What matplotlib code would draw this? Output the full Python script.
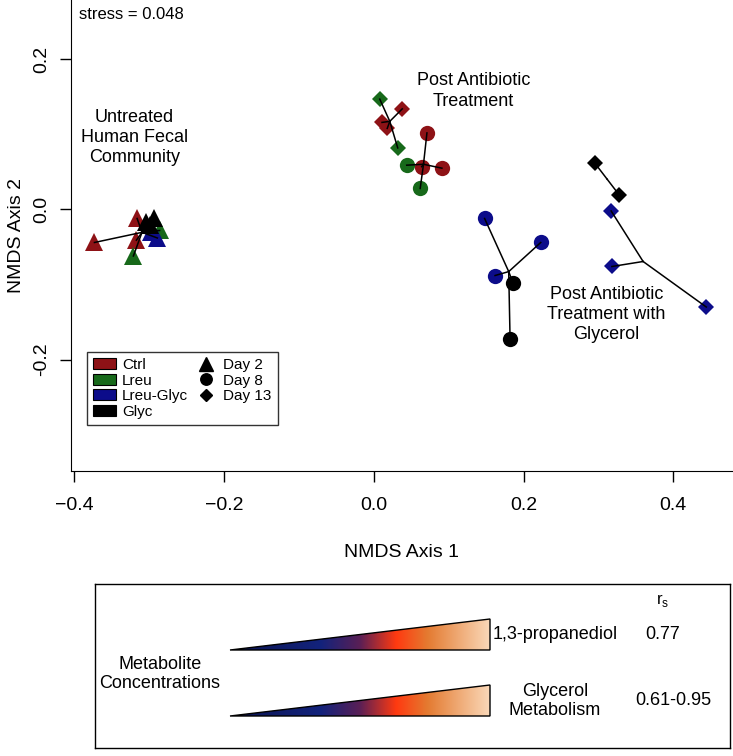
import matplotlib
matplotlib.use("Agg")
import matplotlib.pyplot as plt
import numpy as np
from matplotlib.colors import LinearSegmentedColormap
from matplotlib.patches import Polygon, Patch
from matplotlib.lines import Line2D

plt.rcParams['font.family'] = ['Liberation Sans', 'DejaVu Sans']

# escores NMDS
grupo = ['Ctrl', 'Ctrl', 'Ctrl', 'Lreu', 'Lreu', 'Lreu-Glyc', 'Lreu-Glyc', 'Glyc', 'Glyc', 'Glyc',
         'Ctrl', 'Ctrl', 'Ctrl', 'Lreu', 'Lreu',
         'Lreu', 'Lreu', 'Ctrl', 'Ctrl', 'Ctrl',
         'Lreu-Glyc', 'Lreu-Glyc', 'Lreu-Glyc', 'Glyc', 'Glyc',
         'Glyc', 'Glyc', 'Lreu-Glyc', 'Lreu-Glyc', 'Lreu-Glyc']
dia = [2, 2, 2, 2, 2, 2, 2, 2, 2, 2,
       8, 8, 8, 8, 8,
       13, 13, 13, 13, 13,
       8, 8, 8, 8, 8,
       13, 13, 13, 13, 13]
nmds1 = [-0.373, -0.316, -0.317, -0.321, -0.286, -0.289, -0.297, -0.304, -0.293, -0.299,
         0.071, 0.064, 0.091, 0.044, 0.062,
         0.008, 0.032, 0.038, 0.011, 0.018,
         0.148, 0.223, 0.162, 0.186, 0.182,
         0.295, 0.328, 0.317, 0.318, 0.444]
nmds2 = [-0.044, -0.012, -0.041, -0.062, -0.028, -0.038, -0.030, -0.017, -0.012, -0.021,
         0.102, 0.057, 0.055, 0.059, 0.028,
         0.147, 0.082, 0.134, 0.116, 0.108,
         -0.012, -0.044, -0.088, -0.098, -0.172,
         0.062, 0.019, -0.002, -0.076, -0.130]
# grupo de cada "aranha" (ordispider)
aranha = ['d2'] * 10 + ['d8'] * 5 + ['d13'] * 5 + ['g8'] * 5 + ['y13'] * 2 + ['lg13'] * 3

grupos = ['Ctrl', 'Lreu', 'Lreu-Glyc', 'Glyc']
cores = {'Ctrl': '#8e1216', 'Lreu': '#17691a', 'Lreu-Glyc': '#0c0c8a', 'Glyc': '#000000'}
dias = [2, 8, 13]
marcadores = {2: ('^', 13), 8: ('o', 11), 13: ('D', 8.5)}

stress = 0.048
xticks = [-0.4, -0.2, 0.0, 0.2, 0.4]
yticks = [-0.2, 0.0, 0.2]

metabolitos = ['1,3-propanediol', 'Glycerol\nMetabolism']
rs = ['0.77', '0.61-0.95']

x = np.array(nmds1)
y = np.array(nmds2)
g = np.array(grupo)
d = np.array(dia)
a = np.array(aranha)

fig = plt.figure(figsize=(7.33, 7.56), dpi=100)
ax = fig.add_axes([71 / 733, 1 - 471 / 756, 1 - 71 / 733, 471 / 756])

# pontos
for gr in grupos:
    for dd in dias:
        m = (g == gr) & (d == dd)
        if m.sum() == 0:
            continue
        mk, ms = marcadores[dd]
        ax.plot(x[m], y[m], ls='none', marker=mk, ms=ms, color=cores[gr],
                markeredgewidth=0, zorder=2)

# linhas do centroide ate cada ponto
for c in dict.fromkeys(aranha):
    m = a == c
    cx, cy = x[m].mean(), y[m].mean()
    for xi, yi in zip(x[m], y[m]):
        ax.plot([cx, xi], [cy, yi], color='black', lw=1.1, zorder=3)

ax.text(0.012, 0.985, 'stress = %.3f' % stress, transform=ax.transAxes,
        ha='left', va='top', fontsize=12)
ax.text(-0.32, 0.096, 'Untreated\nHuman Fecal\nCommunity', ha='center', va='center',
        fontsize=13, linespacing=1.25)
ax.text(0.133, 0.158, 'Post Antibiotic\nTreatment', ha='center', va='center',
        fontsize=13, linespacing=1.25)
ax.text(0.311, -0.140, 'Post Antibiotic\nTreatment with\nGlycerol', ha='center', va='center',
        fontsize=13, linespacing=1.25)

ax.set_xlim(-0.4043, 0.4797)
ax.set_ylim(-0.3485, 0.2791)
ax.set_xticks(xticks)
ax.set_yticks(yticks)
ax.set_yticklabels(['%.1f' % v for v in yticks], rotation=90, va='center')
ax.tick_params(direction='out', length=8, width=1, labelsize=14)
ax.tick_params(axis='x', pad=11)
ax.tick_params(axis='y', pad=7)
ax.spines['top'].set_visible(False)
ax.spines['right'].set_visible(False)
ax.set_xlabel('NMDS Axis 1', fontsize=14, labelpad=21)
ax.set_ylabel('NMDS Axis 2', fontsize=14, labelpad=6)

# legenda
handles = [Patch(facecolor=cores[gr], edgecolor='black', lw=0.8, label=gr) for gr in grupos]
for dd in dias:
    mk, ms = marcadores[dd]
    handles.append(Line2D([], [], ls='none', marker=mk, color='black',
                          ms=ms * 0.75, label='Day %d' % dd))
handles.append(Line2D([], [], ls='none', label=' '))
leg = ax.legend(handles=handles, ncol=2, loc='upper left',
                bbox_to_anchor=(87 / 733, 1 - 352 / 756), bbox_transform=fig.transFigure,
                fontsize=11, frameon=True, fancybox=False, edgecolor='black',
                handlelength=1.5, handletextpad=0.4, labelspacing=0.1,
                columnspacing=0.4, borderpad=0.4, borderaxespad=0)
leg.get_frame().set_linewidth(1)

# painel das concentracoes (coordenadas em pixels da figura)
topo = 584
ax2 = fig.add_axes([95 / 733, 8 / 756, 635 / 733, (748 - topo) / 756])
cmap = LinearSegmentedColormap.from_list('met', [
    (0.0, '#0b1450'), (0.35, '#13237c'), (0.5, '#5a1f55'), (0.64, '#ff3a10'),
    (0.76, '#e47a30'), (1.0, '#fad8b8')])
grad = np.linspace(0, 1, 256).reshape(1, -1)
for y0, y1 in [(650, 619), (716, 685)]:
    im = ax2.imshow(grad, cmap=cmap, extent=(230, 490, y0, y1), aspect='auto', zorder=1)
    tri = Polygon([(230, y0), (490, y0), (490, y1)], closed=True, fc='none',
                  ec='black', lw=1, zorder=2)
    ax2.add_patch(tri)
    im.set_clip_path(tri)

ax2.text(555, 635, metabolitos[0], ha='center', va='center', fontsize=13)
ax2.text(555, 701, metabolitos[1], ha='center', va='center', fontsize=13, linespacing=1.2)
ax2.text(663, 635, rs[0], ha='center', va='center', fontsize=13)
ax2.text(673, 701, rs[1], ha='center', va='center', fontsize=13)
ax2.text(663, 601, r'r$_\mathregular{s}$', ha='center', va='center', fontsize=12)
ax2.text(160, 674, 'Metabolite\nConcentrations', ha='center', va='center',
         fontsize=13, linespacing=1.2)

ax2.set_xlim(95, 730)
ax2.set_ylim(748, topo)
ax2.set_xticks([])
ax2.set_yticks([])
for s in ax2.spines.values():
    s.set_linewidth(1)

fig.savefig('out.png', dpi=100)
